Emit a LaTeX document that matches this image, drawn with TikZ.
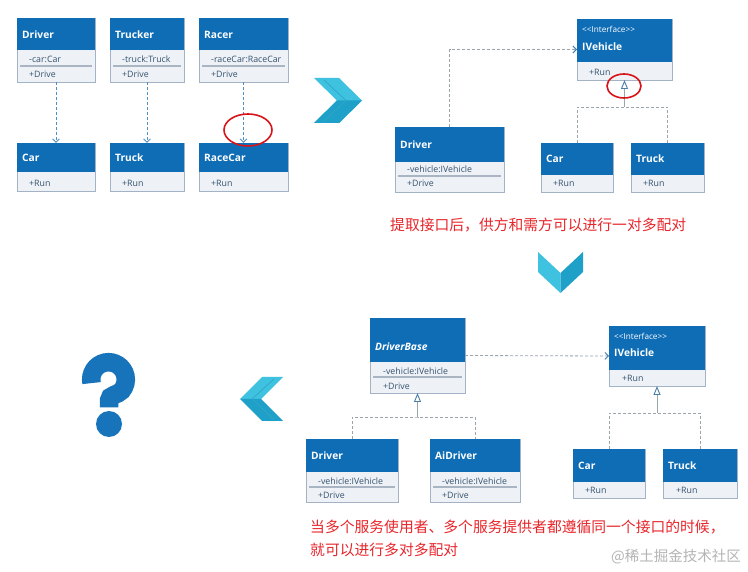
\documentclass[tikz,border=0pt]{standalone}
\usepackage{fontspec}
\setmainfont{Open Sans}
\newfontfamily\cjk{Noto Sans CJK SC}
\usetikzlibrary{arrows.meta,fit,calc}

\definecolor{hdr}{HTML}{0F6DB6}
\definecolor{bodyc}{HTML}{EEF1F5}
\definecolor{bordc}{HTML}{A3B3C5}
\definecolor{sepc}{HTML}{A9B5C2}
\definecolor{txt}{HTML}{34526F}
\definecolor{depAc}{HTML}{4F90C2}
\definecolor{lineg}{HTML}{9BA3AB}
\definecolor{tipc}{HTML}{4A7FA8}
\definecolor{redc}{HTML}{D7141A}
\definecolor{redt}{HTML}{E8262B}
\definecolor{qblue}{HTML}{1773BA}
\definecolor{chl}{HTML}{3EC2E0}
\definecolor{chd}{HTML}{1FA0C8}
\definecolor{wmc}{HTML}{B4B4B4}

\newcommand\uclass[6]{%
  \node[body, fit={(#2,#3) (#4,#6)}] (#1) {};
  \fill[hdr] (#2,#3) rectangle (#4,#5);
}

\begin{document}
\begin{tikzpicture}[x=1pt,y=-1pt,
  body/.style={draw=bordc, fill=bodyc, line width=0.8pt, inner sep=0pt, outer sep=0pt},
  ttl/.style={text=white, font=\fontsize{10.2}{12}\selectfont\bfseries, anchor=west, inner sep=0pt},
  stereo/.style={text=white, font=\fontsize{8.2}{9}\selectfont, anchor=west, inner sep=0pt},
  mem/.style={text=txt, font=\fontsize{8.8}{10}\selectfont, anchor=west, inner sep=0pt},
  sepl/.style={draw=sepc, line width=1.2pt},
  depA/.style={draw=depAc, dash pattern=on 3pt off 2pt, line width=0.8pt, -{Straight Barb[length=3.5pt,width=7pt,line width=0.9pt]}},
  depB/.style={draw=lineg, dash pattern=on 3pt off 2pt, line width=0.8pt, -{Straight Barb[length=3.5pt,width=7pt,line width=0.9pt,color=tipc]}},
  realdash/.style={draw=lineg, dash pattern=on 3pt off 2pt, line width=0.8pt},
  gen/.style={draw=lineg, line width=0.8pt, -{Triangle[open,length=9pt,width=7pt,line width=0.9pt,color=tipc]}},
  ring/.style={draw=redc, line width=1.6pt},
  redtext/.style={text=redt, font=\cjk\fontsize{14.8}{18}\selectfont, anchor=west, inner sep=0pt},
]
\fill[white] (0,0) rectangle (748,572);
\useasboundingbox (0,0) rectangle (748,572);

% ---------------- A: top-left ----------------
\uclass{drvA}{17}{18}{95}{50}{82}
\node[ttl] (drvAt) at (22,35) {Driver};
\node[mem] (drvAa) at (29,59) {-car:Car};
\draw[sepl] (20,66) -- (92,66);
\node[mem] (drvAm) at (29,74) {+Drive};

\uclass{trkA}{110}{18}{184}{50}{82}
\node[ttl] (trkAt) at (115,35) {Trucker};
\node[mem] (trkAa) at (122,59) {-truck:Truck};
\draw[sepl] (113,66) -- (181,66);
\node[mem] (trkAm) at (122,74) {+Drive};

\uclass{rcrA}{199}{18}{288}{50}{82}
\node[ttl] (rcrAt) at (204,35) {Racer};
\node[mem] (rcrAa) at (211,59) {-raceCar:RaceCar};
\draw[sepl] (202,66) -- (285,66);
\node[mem] (rcrAm) at (211,74) {+Drive};

\uclass{carA}{17}{143}{95}{172}{191}
\node[ttl] (carAt) at (22,158) {Car};
\node[mem] (carAm) at (29,183) {+Run};

\uclass{truckA}{110}{143}{184}{172}{191}
\node[ttl] (truckAt) at (115,158) {Truck};
\node[mem] (truckAm) at (122,183) {+Run};

\uclass{rcA}{199}{143}{288}{172}{191}
\node[ttl] (rcAt) at (204,158) {RaceCar};
\node[mem] (rcAm) at (211,183) {+Run};

\draw[depA] (drvA.south) -- (carA.north);
\draw[depA] (trkA.south) -- (truckA.north);
\draw[depA] (rcrA.south) -- (rcA.north);
\draw[ring] (248,130) ellipse [x radius=24pt, y radius=16pt];

% chevron right
\fill[chl] (314,78) -- (339,78) -- (362,100.5) -- (339,123) -- (314,123) -- (337,100.5) -- cycle;
\fill[chd] (337,100.5) -- (362,100.5) -- (339,123) -- (314,123) -- cycle;
\draw[chd!80!black!40!chl, line width=0.7pt] (324,80) -- (346,100.5) -- (324,121);

% ---------------- B: top-right ----------------
\uclass{ivB}{577}{19}{672}{62}{80}
\node[stereo] (ivBs) at (582,29) {<{}<Interface>{}>};
\node[ttl] (ivBt) at (582,47) {IVehicle};
\node[mem] (ivBm) at (589,72) {+Run};

\uclass{drvB}{395}{127}{504}{162}{192}
\node[ttl] (drvBt) at (400,145) {Driver};
\node[mem] (drvBa) at (407,169) {-vehicle:IVehicle};
\draw[sepl] (398,176) -- (501,176);
\node[mem] (drvBm) at (407,183) {+Drive};

\uclass{carB}{541}{143}{613}{175}{192}
\node[ttl] (carBt) at (546,159) {Car};
\node[mem] (carBm) at (553,183) {+Run};

\uclass{truckB}{631}{143}{704}{175}{192}
\node[ttl] (truckBt) at (636,159) {Truck};
\node[mem] (truckBm) at (643,183) {+Run};

\draw[depB] (drvB.north) |- (ivB.west);
\coordinate (jB) at ($(ivB.south)+(0,27)$);
\draw[realdash] (carB.north) |- (jB) -| (truckB.north);
\draw[gen] (jB) -- (ivB.south);
\draw[ring] (624,86) ellipse [x radius=17pt, y radius=12pt];

\node[redtext] (noteB) at (390,225) {提取接口后，供方和需方可以进行一对多配对};

% chevron down
\fill[chl] (538,252) -- (560.5,273) -- (560.5,293) -- (538,272) -- cycle;
\fill[chd] (560.5,273) -- (583,252) -- (583,272) -- (560.5,293) -- cycle;

% ---------------- C: bottom ----------------
\uclass{dbC}{370}{318}{465}{362}{393}
\node[ttl, font=\fontsize{10.2}{12}\selectfont\bfseries\itshape] (dbCt) at (375,347) {DriverBase};
\node[mem] (dbCa) at (383,371) {-vehicle:IVehicle};
\draw[sepl] (373,377) -- (462,377);
\node[mem] (dbCm) at (383,386) {+Drive};

\uclass{ivC}{609}{326}{705}{370}{386}
\node[stereo] (ivCs) at (614,336) {<{}<Interface>{}>};
\node[ttl] (ivCt) at (614,353) {IVehicle};
\node[mem] (ivCm) at (622,378) {+Run};

\uclass{drvC}{306}{439}{398}{472}{502}
\node[ttl] (drvCt) at (311,456) {Driver};
\node[mem] (drvCa) at (318,481) {-vehicle:IVehicle};
\draw[sepl] (309,487) -- (395,487);
\node[mem] (drvCm) at (318,495) {+Drive};

\uclass{aidC}{430}{439}{520}{472}{502}
\node[ttl] (aidCt) at (435,456) {AiDriver};
\node[mem] (aidCa) at (442,481) {-vehicle:IVehicle};
\draw[sepl] (433,487) -- (517,487);
\node[mem] (aidCm) at (442,495) {+Drive};

\uclass{carC}{573}{449}{645}{482}{498}
\node[ttl] (carCt) at (578,466) {Car};
\node[mem] (carCm) at (585,490) {+Run};

\uclass{truckC}{663}{449}{737}{482}{498}
\node[ttl] (truckCt) at (668,466) {Truck};
\node[mem] (truckCm) at (676,490) {+Run};

\draw[depB] (dbC.east) -- (ivC.west);
\coordinate (jC1) at ($(dbC.south)+(0,24)$);
\draw[realdash] (drvC.north) |- (jC1) -| (aidC.north);
\draw[gen] (jC1) -- (dbC.south);
\coordinate (jC2) at ($(ivC.south)+(0,27)$);
\draw[realdash] (carC.north) |- (jC2) -| (truckC.north);
\draw[gen] (jC2) -- (ivC.south);

\node[redtext] (noteC1) at (310,527) {当多个服务使用者、多个服务提供者都遵循同一个接口的时候，};
\node[redtext] (noteC2) at (310,550) {就可以进行多对多配对};
\node[text=wmc, font=\cjk\fontsize{14.5}{17}\selectfont, anchor=east, inner sep=0pt] (wm) at (741,557) {@稀土掘金技术社区};

% chevron left
\fill[chl] (283,377) -- (262,377) -- (240,399) -- (261,399) -- cycle;
\fill[chd] (240,399) -- (262,421) -- (283,421) -- (261,399) -- cycle;
\draw[chd!80!black!40!chl, line width=0.7pt] (274,379) -- (252,399) -- (274,419);

% question mark (drawn)
\begin{scope}[shift={(108.5,379.5)}, y=1pt]
  \draw[qblue, line width=18.5pt, line cap=butt]
    (192:17.3) arc[start angle=192, end angle=-40, radius=17.3pt]
    .. controls (9.2,-15.8) and (0.5,-15) .. (0.5,-21) -- (0.5,-28);
  \fill[qblue] (0.5,-44.5) circle[radius=13pt];
\end{scope}
\end{tikzpicture}
\end{document}
